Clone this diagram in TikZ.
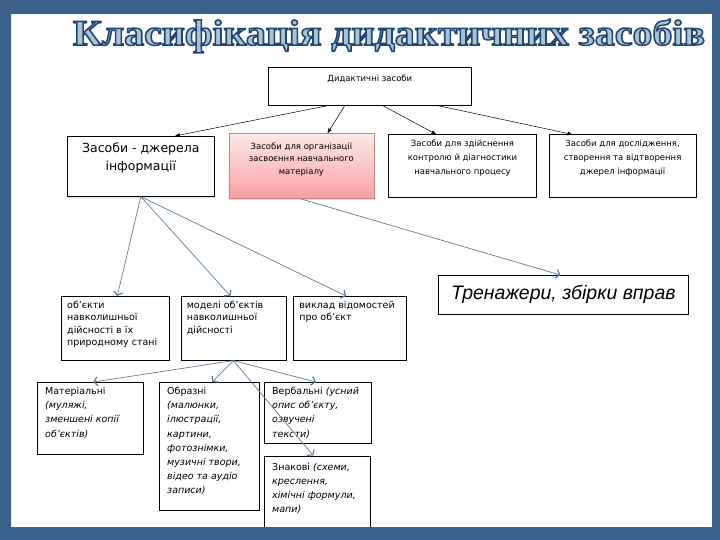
\documentclass[tikz,border=0pt]{standalone}
\usepackage{fontspec}
\setmainfont{DejaVu Sans}
\newfontfamily\wordfont{Liberation Sans}
\newfontfamily\headfont{Liberation Serif}
\usetikzlibrary{arrows.meta,positioning,shadows}
\definecolor{frameblue}{RGB}{58,96,140}
\definecolor{linkblue}{RGB}{96,126,158}
\definecolor{headfill}{RGB}{168,196,212}
\definecolor{pinktop}{RGB}{255,232,232}
\definecolor{pinkbot}{RGB}{248,160,162}
\definecolor{pinkedge}{RGB}{200,130,130}
\newcommand\outlined[1]{\special{pdf:literal 2 Tr 0.4 w 0.13 0.27 0.45 RG}#1\special{pdf:literal 0 Tr}}

\begin{document}
\begin{tikzpicture}[x=1pt,y=-1pt,
  cell/.style={draw=black,line width=0.6pt,fill=white,inner sep=0pt},
  txt/.style={anchor=north west,inner sep=0pt,align=left,xshift=6pt,yshift=-5pt},
  ctxt/.style={anchor=north,inner sep=0pt,align=center},
  small/.style={font=\fontsize{8.5}{13.5}\selectfont},
  plain/.style={font=\fontsize{9.5}{12.3}\selectfont},
  kind/.style={font=\fontsize{9.5}{14.2}\selectfont},
  soft/.style={drop shadow={opacity=0.25,shadow xshift=0.8pt,shadow yshift=-1.5pt}},
  down/.style={-{Latex[length=5pt,width=4pt]},line width=0.5pt},
  link/.style={-{Straight Barb[length=3.5pt,width=9pt,line width=1.2pt]},draw=linkblue,line width=0.7pt}
]
\useasboundingbox (0,0) rectangle (720,540);
\fill[white] (0,0) rectangle (720,540);
\node (head) at (389,36) {\resizebox{632pt}{26pt}{\headfont\bfseries\color{headfill}\outlined{Класифікація дидактичних засобів}}};

\node[cell,anchor=north west,minimum width=203pt,minimum height=38pt,
  label={[ctxt,small,yshift=-8pt]north:Дидактичні засоби}] (root) at (268,67) {};

\node[cell,soft,anchor=north west,minimum width=147pt,minimum height=60pt,
  label={[ctxt,font=\fontsize{12.5}{18}\selectfont,yshift=-7pt]north:Засоби - джерела\\інформації}] (src) at (67,136) {};
\node[cell,soft,right=14pt of src,minimum width=145pt,minimum height=65pt,draw=pinkedge,top color=pinktop,bottom color=pinkbot,
  label={[ctxt,font=\fontsize{8.5}{12.5}\selectfont,yshift=-9pt]north:Засоби для організації\\засвоєння навчального\\матеріалу}] (org) {};
\node[cell,right=14pt of org,minimum width=148pt,minimum height=63pt,
  label={[ctxt,font=\fontsize{8.5}{14.3}\selectfont,yshift=-5pt]north:Засоби для здійснення\\контролю й діагностики\\навчального процесу}] (ctrl) {};
\node[cell,right=12pt of ctrl,minimum width=147pt,minimum height=63pt,
  label={[ctxt,font=\fontsize{8.5}{14.3}\selectfont,yshift=-5pt]north:Засоби для дослідження,\\створення та відтворення\\джерел інформації}] (res) {};

\node[cell,anchor=north west,minimum width=250pt,minimum height=39pt,
  font=\wordfont\itshape\fontsize{19.5}{22}\selectfont] (drill) at (438,275) {Тренажери, збірки вправ};

\node[cell,anchor=north west,minimum width=108pt,minimum height=64pt,
  label={[txt,plain]north west:об’єкти\\навколишньої\\дійсності в їх\\природному стані}] (nat) at (61,296) {};
\node[cell,right=11pt of nat,minimum width=105pt,minimum height=64pt,
  label={[txt,plain]north west:моделі об’єктів\\навколишньої\\дійсності}] (model) {};
\node[cell,right=7pt of model,minimum width=113pt,minimum height=64pt,
  label={[txt,plain]north west:виклад відомостей\\про об’єкт}] (info) {};

\node[cell,anchor=north west,minimum width=106pt,minimum height=72pt,
  label={[txt,kind,xshift=2pt]north west:Матеріальні\\\textit{(муляжі,}\\\textit{зменшені копії}\\\textit{об’єктів)}}] (mat) at (37,382) {};
\node[cell,anchor=north west,minimum width=100pt,minimum height=128pt,
  label={[txt,kind,xshift=2pt]north west:Образні\\\textit{(малюнки,}\\\textit{ілюстрації,}\\\textit{картини,}\\\textit{фотознімки,}\\\textit{музичні твори,}\\\textit{відео та аудіо}\\\textit{записи)}}] (img) at (159,382) {};
\node[cell,anchor=north west,minimum width=107pt,minimum height=61pt,
  label={[txt,kind,xshift=2pt]north west:Вербальні \textit{(усний}\\\textit{опис об’єкту,}\\\textit{озвучені}\\\textit{тексти)}}] (verb) at (264,382) {};
\node[cell,below=12pt of verb.south west,anchor=north west,minimum width=106pt,minimum height=80pt,
  label={[txt,kind,xshift=2pt,yshift=-2pt]north west:Знакові \textit{(схеми,}\\\textit{креслення,}\\\textit{хімічні формули,}\\\textit{мапи)}}] (sign) {};

\draw[down] ([xshift=-42pt]root.south) -- ([xshift=34pt]src.north);
\draw[down] ([xshift=-25pt]root.south) -- ([xshift=26pt]org.north);
\draw[down] ([xshift=13pt]root.south) -- ([xshift=-26pt]ctrl.north);
\draw[down] ([xshift=68pt]root.south) -- ([xshift=-50pt]res.north);

\draw[link] (src.south) -- ([xshift=2pt]nat.north);
\draw[link] (src.south) -- ([xshift=-3pt]model.north);
\draw[link] (src.south) -- ([xshift=-4pt]info.north);
\draw[link] (org.south) -- ([xshift=-3pt]drill.north);
\draw[link] (model.south) -- ([xshift=3pt]mat.north);
\draw[link] (model.south) -- ([xshift=3pt]img.north);
\draw[link] (model.south) -- ([xshift=-2pt]verb.north);
\draw[link] (model.south) -- ([xshift=-4pt]sign.north);

\fill[frameblue,even odd rule] (0,0) rectangle (720,540) (11,14) rectangle (712,527);
\end{tikzpicture}
\end{document}
